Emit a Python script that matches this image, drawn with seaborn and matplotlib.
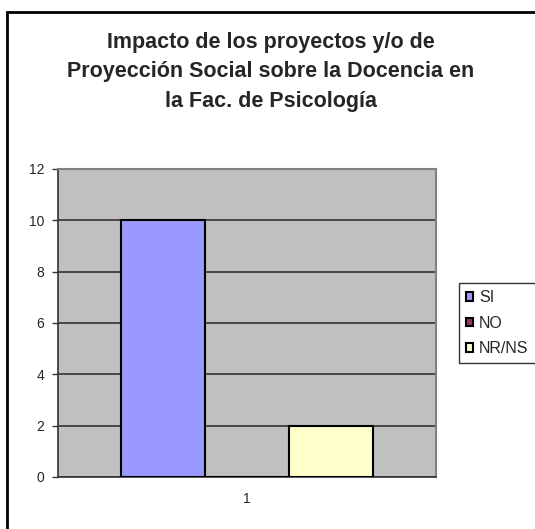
import matplotlib
matplotlib.use("Agg")
import matplotlib.pyplot as plt
from matplotlib.patches import Rectangle
import seaborn as sns
import pandas as pd

# ── Data ─────────────────────────────────────────────────────────────────────
CATEGORIES = ["1", "1", "1"]
RESPUESTAS = ["SI", "NO", "NR/NS"]
VALORES    = [10, 0, 2]
COLORES    = ["#9999FF", "#993366", "#FFFFCC"]
Y_TICKS    = [0, 2, 4, 6, 8, 10, 12]
TITULO     = ("Impacto de los proyectos y/o de\n"
              "Proyección Social sobre la Docencia en\n"
              "la Fac. de Psicología")

df = pd.DataFrame({"cat": CATEGORIES, "resp": RESPUESTAS, "valor": VALORES})

sns.set_style("white")
plt.rcParams["font.family"] = ["Liberation Sans", "DejaVu Sans"]

W, H = 535, 529
fig = plt.figure(figsize=(W / 100, H / 100), dpi=100)
ax = fig.add_axes([58 / W, 1 - 477 / H, (436 - 58) / W, (477 - 169) / H])

sns.barplot(data=df, x="cat", y="valor", hue="resp", hue_order=RESPUESTAS,
            palette=COLORES, width=0.668, dodge=True, ax=ax,
            edgecolor="black", linewidth=1.5, saturation=1, legend=False,
            zorder=3)

ax.set_facecolor("#C0C0C0")
ax.set_xlim(-0.5, 0.5)
ax.set_ylim(0, 12)
ax.set_yticks(Y_TICKS)
ax.set_yticklabels([str(t) for t in Y_TICKS], fontsize=10)
ax.set_xticks([0])
ax.set_xticklabels(["1"], fontsize=10)
ax.set_xlabel("")
ax.set_ylabel("")
ax.yaxis.grid(True, color="#333333", linewidth=1.2, zorder=1)
ax.set_axisbelow(True)

for side in ["top", "right"]:
    ax.spines[side].set_color("#808080")
    ax.spines[side].set_linewidth(1.5)
for side in ["left", "bottom"]:
    ax.spines[side].set_color("#333333")
    ax.spines[side].set_linewidth(1.2)

ax.tick_params(axis="y", which="both", left=True, length=4, width=1,
               color="#333333", pad=6)
ax.tick_params(axis="x", which="both", bottom=False, pad=7)

# legend
handles = [Rectangle((0, 0), 1, 1, facecolor=c, edgecolor="black", linewidth=1.5)
           for c in COLORES]
leg = fig.legend(handles, RESPUESTAS, loc="upper left",
                 bbox_to_anchor=(459 / W, 1 - 283 / H),
                 fontsize=11.5, frameon=True, fancybox=False,
                 handlelength=0.45, handleheight=0.45, handletextpad=0.35,
                 labelspacing=0.65, borderpad=0.45, borderaxespad=0)
leg.get_frame().set_edgecolor("black")
leg.get_frame().set_linewidth(1)

# title
fig.text(271 / W, 1 - 32 / H, TITULO, ha="center", va="top",
         fontsize=15.5, fontweight="bold", linespacing=1.52)

# outer chart frame (only top and left visible, rest is cropped)
fig.patches.append(Rectangle((7 / W, -0.2), 1.2, 1.2 - 12.5 / H,
                             transform=fig.transFigure, fill=False,
                             edgecolor="black", linewidth=2))

fig.savefig("out.png", dpi=100)
